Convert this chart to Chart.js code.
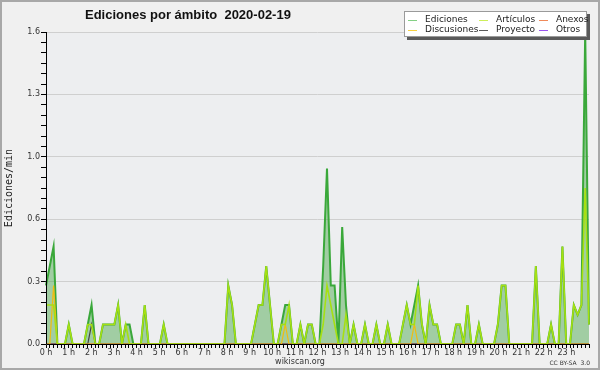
<!DOCTYPE html>
<html>
<head>
<meta charset="utf-8">
<script src="https://cdn.jsdelivr.net/npm/chart.js@4/dist/chart.umd.min.js"></script>
<style>
  html, body { margin: 0; padding: 0; background: #f0f0f0; }
  #c { display: block; }
</style>
</head>
<body>
<canvas id="c" width="600" height="370"></canvas>
<script>
'use strict';

// series names, legend order (row by row)
const seriesNames = ['Ediciones', 'Artículos', 'Anexos', 'Discusiones', 'Proyecto', 'Otros'];

// edits per minute, one value per 10 minute slot (00:00 .. 23:50)
const ediciones = [
  0.3, 0.4, 0.5, 0, 0, 0, 0.1, 0, 0, 0, 0, 0.1,
  0.2, 0, 0, 0.1, 0.1, 0.1, 0.1, 0.2, 0, 0.1, 0.1, 0,
  0, 0, 0.2, 0, 0, 0, 0, 0.1, 0, 0, 0, 0,
  0, 0, 0, 0, 0, 0, 0, 0, 0, 0, 0, 0,
  0.3, 0.2, 0, 0, 0, 0, 0, 0.1, 0.2, 0.2, 0.4, 0.2,
  0, 0, 0.1, 0.2, 0.2, 0, 0, 0.1, 0, 0.1, 0.1, 0,
  0, 0.4, 0.9, 0.3, 0.3, 0, 0.6, 0.2, 0, 0.1, 0, 0,
  0.1, 0, 0, 0.1, 0, 0, 0.1, 0, 0, 0, 0.1, 0.2,
  0.1, 0.2, 0.3, 0.1, 0, 0.2, 0.1, 0.1, 0, 0, 0, 0,
  0.1, 0.1, 0, 0.2, 0, 0, 0.1, 0, 0, 0, 0, 0.1,
  0.3, 0.3, 0, 0, 0, 0, 0, 0, 0, 0.4, 0, 0,
  0, 0.1, 0, 0, 0.5, 0, 0, 0.2, 0.15, 0.2, 1.6, 0.1
];
const articulos = [
  0.2, 0.2, 0.2, 0, 0, 0, 0.1, 0, 0, 0, 0, 0.1,
  0.1, 0, 0, 0.1, 0.1, 0.1, 0.1, 0.2, 0, 0.1, 0, 0,
  0, 0, 0.2, 0, 0, 0, 0, 0.1, 0, 0, 0, 0,
  0, 0, 0, 0, 0, 0, 0, 0, 0, 0, 0, 0,
  0.3, 0.2, 0, 0, 0, 0, 0, 0.1, 0.2, 0.2, 0.4, 0.2,
  0, 0, 0.1, 0.1, 0.2, 0, 0, 0.1, 0, 0.1, 0.1, 0,
  0, 0.1, 0.3, 0.2, 0.1, 0, 0, 0.15, 0, 0.1, 0, 0,
  0.1, 0, 0, 0.1, 0, 0, 0.1, 0, 0, 0, 0.1, 0.2,
  0.1, 0.1, 0.3, 0.1, 0, 0.2, 0.1, 0.1, 0, 0, 0, 0,
  0.1, 0.1, 0, 0.2, 0, 0, 0.1, 0, 0, 0, 0, 0.1,
  0.3, 0.3, 0, 0, 0, 0, 0, 0, 0, 0.4, 0, 0,
  0, 0.1, 0, 0, 0.5, 0, 0, 0.2, 0.15, 0.2, 0.8, 0.1
];
const anexos = [
  0, 0, 0, 0, 0, 0, 0, 0, 0, 0, 0, 0,
  0, 0, 0, 0, 0, 0, 0, 0, 0, 0, 0, 0,
  0, 0, 0, 0, 0, 0, 0, 0, 0, 0, 0, 0,
  0, 0, 0, 0, 0, 0, 0, 0, 0, 0, 0, 0,
  0, 0, 0, 0, 0, 0, 0, 0, 0, 0, 0, 0,
  0, 0, 0, 0, 0, 0, 0, 0, 0, 0, 0, 0,
  0, 0, 0, 0, 0, 0, 0, 0, 0, 0, 0, 0,
  0, 0, 0, 0, 0, 0, 0, 0, 0, 0, 0, 0,
  0, 0, 0, 0, 0, 0, 0, 0, 0, 0, 0, 0,
  0, 0, 0, 0, 0, 0, 0, 0, 0, 0, 0, 0,
  0, 0, 0, 0, 0, 0, 0, 0, 0, 0, 0, 0,
  0, 0, 0, 0, 0, 0, 0, 0, 0, 0, 0, 0
];
const discusiones = [
  0, 0, 0.3, 0, 0, 0, 0, 0, 0, 0, 0, 0,
  0, 0, 0, 0, 0, 0, 0, 0, 0, 0, 0, 0,
  0, 0, 0, 0, 0, 0, 0, 0, 0, 0, 0, 0,
  0, 0, 0, 0, 0, 0, 0, 0, 0, 0, 0, 0,
  0, 0, 0, 0, 0, 0, 0, 0, 0, 0, 0, 0,
  0, 0, 0, 0.1, 0, 0, 0, 0, 0, 0, 0, 0,
  0, 0, 0, 0, 0, 0, 0, 0, 0, 0, 0, 0,
  0, 0, 0, 0, 0, 0, 0, 0, 0, 0, 0, 0,
  0, 0.1, 0, 0, 0, 0, 0, 0, 0, 0, 0, 0,
  0, 0, 0, 0, 0, 0, 0, 0, 0, 0, 0, 0,
  0, 0, 0, 0, 0, 0, 0, 0, 0, 0, 0, 0,
  0, 0, 0, 0, 0, 0, 0, 0, 0, 0, 0, 0
];
const proyecto = [
  0, 0, 0, 0, 0, 0, 0, 0, 0, 0, 0, 0,
  0.1, 0, 0, 0, 0, 0, 0, 0, 0, 0, 0, 0,
  0, 0, 0, 0, 0, 0, 0, 0, 0, 0, 0, 0,
  0, 0, 0, 0, 0, 0, 0, 0, 0, 0, 0, 0,
  0, 0, 0, 0, 0, 0, 0, 0, 0, 0, 0, 0,
  0, 0, 0, 0, 0, 0, 0, 0, 0, 0, 0, 0,
  0, 0, 0, 0, 0, 0, 0, 0, 0, 0, 0, 0,
  0, 0, 0, 0, 0, 0, 0, 0, 0, 0, 0, 0,
  0, 0, 0, 0, 0, 0, 0, 0, 0, 0, 0, 0,
  0, 0, 0, 0, 0, 0, 0, 0, 0, 0, 0, 0,
  0, 0, 0, 0, 0, 0, 0, 0, 0, 0, 0, 0,
  0, 0, 0, 0, 0, 0, 0, 0, 0, 0, 0, 0
];
const otros = anexos.slice(); // all zero that day

// axis settings
const yMax = 1.6;
const yTickCount = 30;      // minor ticks, a label every 6th
const hourCount = 24;

// 10 minute slot labels
const slots = [];
for (let h = 0; h < hourCount; h++) {
  for (let m = 0; m < 60; m += 10) {
    slots.push(String(h).padStart(2, '0') + ':' + String(m).padStart(2, '0'));
  }
}

const lineColors = {
  Ediciones: '#3aa83a',
  'Artículos': '#a6e012',
  Anexos: '#ee7a44',
  Discusiones: '#f0bd10',
  Proyecto: '#444444',
  Otros: '#9550e8'
};
const legendColors = {
  Ediciones: '#84d084',
  'Artículos': '#cdee5a',
  Anexos: '#f08a5a',
  Discusiones: '#f6d040',
  Proyecto: '#5a5a5a',
  Otros: '#9a55ee'
};

const canvas = document.getElementById('c');

const bgPlugin = {
  id: 'bg',
  beforeDraw(chart) {
    const ctx = chart.ctx;
    const a = chart.chartArea;
    ctx.save();
    ctx.fillStyle = '#f0f0f0';
    ctx.fillRect(0, 0, chart.width, chart.height);
    ctx.fillStyle = '#edeef0';
    ctx.fillRect(a.left, a.top, a.right - a.left, a.bottom - a.top);
    ctx.restore();
  }
};

// axes drawn over the data so zero lines stay hidden
const axesPlugin = {
  id: 'axes',
  afterDatasetsDraw(chart) {
    const ctx = chart.ctx;
    const a = chart.chartArea;
    ctx.save();
    ctx.strokeStyle = '#000';
    ctx.lineWidth = 1;
    ctx.beginPath();
    ctx.moveTo(a.left + 0.5, a.top);
    ctx.lineTo(a.left + 0.5, a.bottom + 0.5);
    ctx.lineTo(a.right + 1, a.bottom + 0.5);
    ctx.stroke();
    ctx.restore();
  }
};

const textPlugin = {
  id: 'texts',
  afterDraw(chart) {
    const ctx = chart.ctx;
    ctx.save();
    // title
    ctx.fillStyle = '#111';
    ctx.font = 'bold 13px "Liberation Sans", Arial, sans-serif';
    ctx.textBaseline = 'alphabetic';
    ctx.textAlign = 'left';
    ctx.fillText('Ediciones por ámbito  2020-02-19', 85, 19);

    // legend box with shadow
    const lx = 404, ly = 11, lw = 183, lh = 26;
    ctx.fillStyle = '#5a5a5a';
    ctx.fillRect(lx + 3, ly + 3, lw, lh);
    ctx.fillStyle = '#ffffff';
    ctx.fillRect(lx, ly, lw, lh);
    ctx.strokeStyle = '#9a9a9a';
    ctx.lineWidth = 1;
    ctx.strokeRect(lx + 0.5, ly + 0.5, lw - 1, lh - 1);

    const colX = [408, 479, 539];
    const rowY = [19.5, 29.5];
    ctx.font = '9px "DejaVu Sans", sans-serif';
    ctx.textBaseline = 'middle';
    chart.data.datasets.forEach((ds, i) => {
      const col = i % 3, row = Math.floor(i / 3);
      const x = colX[col], y = rowY[row];
      ctx.strokeStyle = legendColors[ds.label];
      ctx.lineWidth = 1;
      ctx.beginPath();
      ctx.moveTo(x, Math.round(y) + 0.5);
      ctx.lineTo(x + 9, Math.round(y) + 0.5);
      ctx.stroke();
      ctx.fillStyle = '#222';
      ctx.fillText(ds.label, x + 17, y);
    });

    // footer
    ctx.textBaseline = 'alphabetic';
    ctx.fillStyle = '#333';
    ctx.font = '8px "DejaVu Sans", sans-serif';
    ctx.textAlign = 'center';
    ctx.fillText('wikiscan.org', 300, 364);
    ctx.font = '6px "DejaVu Sans", sans-serif';
    ctx.textAlign = 'right';
    ctx.fillText('CC BY-SA  3.0', 590, 365);

    // frame
    ctx.strokeStyle = '#a8a8a8';
    ctx.lineWidth = 2;
    ctx.strokeRect(1, 1, chart.width - 2, chart.height - 2);
    ctx.restore();
  }
};

const seriesData = {
  Ediciones: ediciones,
  'Artículos': articulos,
  Anexos: anexos,
  Discusiones: discusiones,
  Proyecto: proyecto,
  Otros: otros
};
const drawOrder = { Ediciones: 10, 'Artículos': 0, Anexos: 3, Discusiones: 1, Proyecto: 2, Otros: 4 };

const datasets = seriesNames.map(name => ({
  label: name,
  data: seriesData[name],
  borderColor: lineColors[name],
  backgroundColor: name === 'Ediciones' ? 'rgba(58,160,58,0.42)' : 'rgba(0,0,0,0)',
  fill: name === 'Ediciones' ? 'origin' : false,
  borderWidth: name === 'Ediciones' ? 2 : (name === 'Artículos' ? 1.6 : 1.2),
  pointRadius: 0,
  tension: 0,
  order: drawOrder[name]
}));

new Chart(canvas, {
  type: 'line',
  data: { labels: slots, datasets: datasets },
  options: {
    responsive: false,
    animation: false,
    layout: { padding: { top: 32, right: 11, left: 0, bottom: 0 } },
    plugins: {
      legend: { display: false },
      tooltip: { enabled: false },
      title: { display: false }
    },
    scales: {
      x: {
        type: 'category',
        display: false,
        offset: false
      },
      xh: {
        type: 'linear',
        position: 'bottom',
        min: 0,
        max: hourCount,
        border: { display: false },
        grid: { drawOnChartArea: false, drawTicks: true, tickLength: 4, tickColor: '#000', lineWidth: 1 },
        afterBuildTicks(scale) {
          const t = [];
          for (let k = 0; k <= hourCount * 6; k++) t.push({ value: k / 6 });
          scale.ticks = t;
        },
        ticks: {
          autoSkip: false,
          maxRotation: 0,
          padding: 0,
          color: '#333',
          font: { family: '"DejaVu Sans", sans-serif', size: 8 },
          callback: (v, i) => (i % 6 === 0 && i < hourCount * 6) ? (i / 6) + ' h' : ''
        },
        afterFit(scale) { scale.height = 26; }
      },
      y: {
        min: 0,
        max: yMax,
        border: { display: false },
        grid: {
          color: c => (c.index % 6 === 0 ? '#cfcfcf' : 'rgba(0,0,0,0)'),
          tickColor: '#000',
          tickLength: 5,
          lineWidth: 1
        },
        afterBuildTicks(scale) {
          const t = [];
          for (let k = 0; k <= yTickCount; k++) t.push({ value: k * yMax / yTickCount });
          scale.ticks = t;
        },
        ticks: {
          autoSkip: false,
          padding: 1,
          color: '#333',
          font: { family: '"DejaVu Sans", sans-serif', size: 8 },
          callback: (v, i) => (i % 6 === 0 ? v.toFixed(1) : '')
        },
        title: {
          display: true,
          text: 'Ediciones/min',
          color: '#222',
          font: { family: '"DejaVu Sans Mono", monospace', size: 10 },
          padding: { top: 3, bottom: 0 }
        },
        afterFit(scale) { scale.width = 46; }
      }
    }
  },
  plugins: [bgPlugin, axesPlugin, textPlugin]
});
</script>
</body>
</html>
